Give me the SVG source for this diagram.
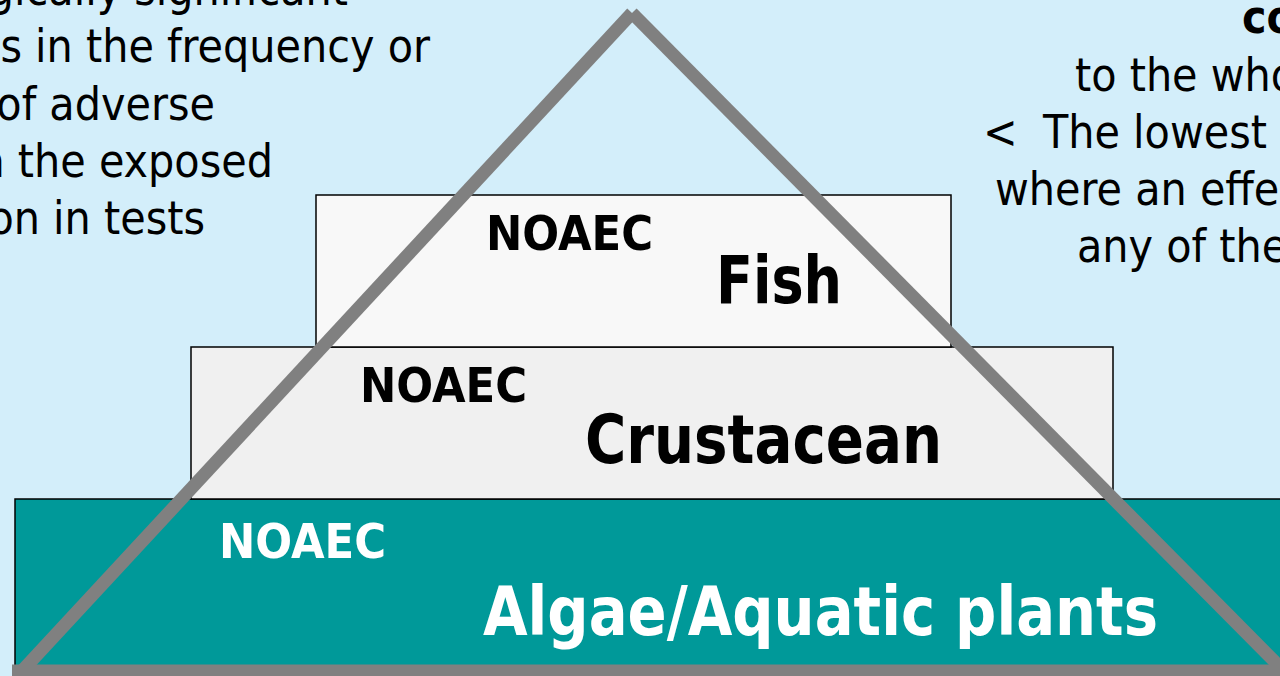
<svg xmlns="http://www.w3.org/2000/svg" width="1280" height="676" viewBox="0 0 1280 676">
<defs>
<style>
.txt{font-family:"DejaVu Sans Condensed","DejaVu Sans",Verdana,sans-serif;font-size:46px;fill:#000}
.b{font-weight:bold}
.lbl{font-family:"DejaVu Sans Condensed","DejaVu Sans",Verdana,sans-serif;font-weight:bold;fill:#000}
.w{fill:#fff}
.box{stroke:#000;stroke-width:1.5}
.edge{stroke:#808080;stroke-width:13;stroke-linecap:butt;fill:none}
</style>
</defs>
<rect x="0" y="0" width="1280" height="676" fill="#D3EEFA"/>
<g id="left-text">
<text class="txt" x="348" y="5" text-anchor="end">gically significant</text>
<text class="txt" x="430" y="62" text-anchor="end">s in the frequency or</text>
<text class="txt" x="215" y="120" text-anchor="end">of adverse</text>
<text class="txt" x="273" y="177" text-anchor="end">n the exposed</text>
<text class="txt" x="205" y="234" text-anchor="end">on in tests</text>
</g>
<g id="right-text">
<text class="txt b" x="1242" y="33">co</text>
<text class="txt" x="1075" y="91">to the who</text>
<text class="txt" y="148"><tspan x="983">&lt;</tspan><tspan x="1043">The lowest</tspan></text>
<text class="txt" x="995" y="205">where an effe</text>
<text class="txt" x="1077" y="262">any of the</text>
</g>
<g id="algae">
<rect class="box" x="15" y="499" width="1290" height="200" fill="#009999"/>
<text class="lbl w" x="219" y="558" font-size="48" textLength="167" lengthAdjust="spacingAndGlyphs">NOAEC</text>
<text class="lbl w" x="483" y="635" font-size="68" textLength="675" lengthAdjust="spacingAndGlyphs">Algae/Aquatic plants</text>
</g>
<g id="crustacean">
<rect class="box" x="191" y="347" width="922" height="152" fill="#F0F0F0"/>
<text class="lbl" x="360" y="402" font-size="48" textLength="167" lengthAdjust="spacingAndGlyphs">NOAEC</text>
<text class="lbl" x="585" y="463" font-size="68" textLength="357" lengthAdjust="spacingAndGlyphs">Crustacean</text>
</g>
<g id="fish">
<rect class="box" x="316" y="195" width="635" height="152" fill="#F8F8F8"/>
<text class="lbl" x="486" y="250" font-size="48" textLength="167" lengthAdjust="spacingAndGlyphs">NOAEC</text>
<text class="lbl" x="716" y="303" font-size="66" textLength="126" lengthAdjust="spacingAndGlyphs">Fish</text>
</g>
<g id="connectors">
<line class="edge" x1="632" y1="13" x2="22" y2="671"/>
<line class="edge" x1="632" y1="13" x2="1284" y2="671"/>
<line class="edge" x1="12" y1="671" x2="1290" y2="671"/>
</g>
</svg>
